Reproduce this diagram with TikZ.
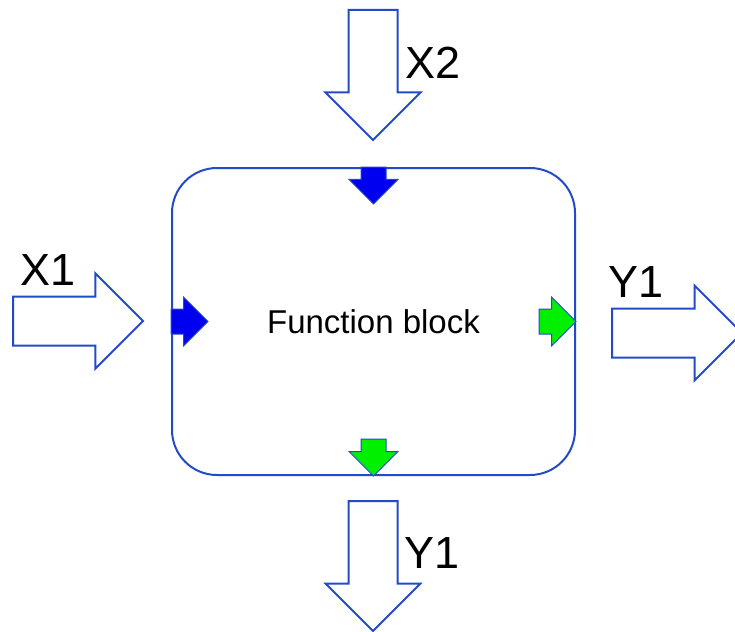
\documentclass[tikz,border=0pt]{standalone}
\usepackage{fontspec}
\setmainfont{Liberation Sans}
\usetikzlibrary{shapes.arrows}
\definecolor{lineblue}{RGB}{35,75,200}
\definecolor{fillblue}{RGB}{0,0,240}
\definecolor{fillgreen}{RGB}{0,240,0}

\begin{document}
\begin{tikzpicture}[x=1pt,y=-1pt,
  bigarrow/.style={single arrow, draw=lineblue, fill=white, line width=2pt,
    inner xsep=0pt, inner ysep=23.5pt, single arrow head extend=23pt,
    single arrow tip angle=90, minimum height=130pt, outer sep=0pt},
  smallarrow/.style={single arrow, draw=lineblue, line width=1pt,
    inner xsep=0pt, inner ysep=12pt, single arrow head extend=12pt,
    single arrow tip angle=90, minimum height=37pt, outer sep=0pt},
  label/.style={inner sep=0pt, font=\fontsize{45}{50}\selectfont}]
\clip (0,0) rectangle (735,631);

% the block itself
\node [draw=lineblue, line width=2pt, rounded corners=45pt, minimum width=403pt,
  minimum height=307pt, inner sep=0pt, font=\fontsize{33}{40}\selectfont]
  (fb) at (373.5,321.5) {Function block};

% ports on the block border
\node [smallarrow, fill=fillblue, rotate=-90, anchor=tail] (x2port) at (fb.north) {};
\node [smallarrow, fill=fillblue, anchor=tail] (x1port) at (fb.west) {};
\node [smallarrow, fill=fillgreen, anchor=tip] (y1port) at (fb.east) {};
\node [smallarrow, fill=fillgreen, rotate=-90, anchor=tip] (y1dport) at (fb.south) {};

% inputs and outputs
\node [bigarrow, rotate=-90, anchor=tail] (x2in) at (373,10) {};
\node [bigarrow, anchor=tail] (x1in) at (13,321) {};
\node [bigarrow, anchor=tail] (y1out) at (612,333) {};
\node [bigarrow, rotate=-90, anchor=tail] (y1down) at (373,501) {};

\node [label] (x2lab) at (433,63) {X2};
\node [label] (x1lab) at (48,270) {X1};
\node [label] (y1lab) at (636,282) {Y1};
\node [label] (y1dlab) at (432,553) {Y1};
\end{tikzpicture}
\end{document}
